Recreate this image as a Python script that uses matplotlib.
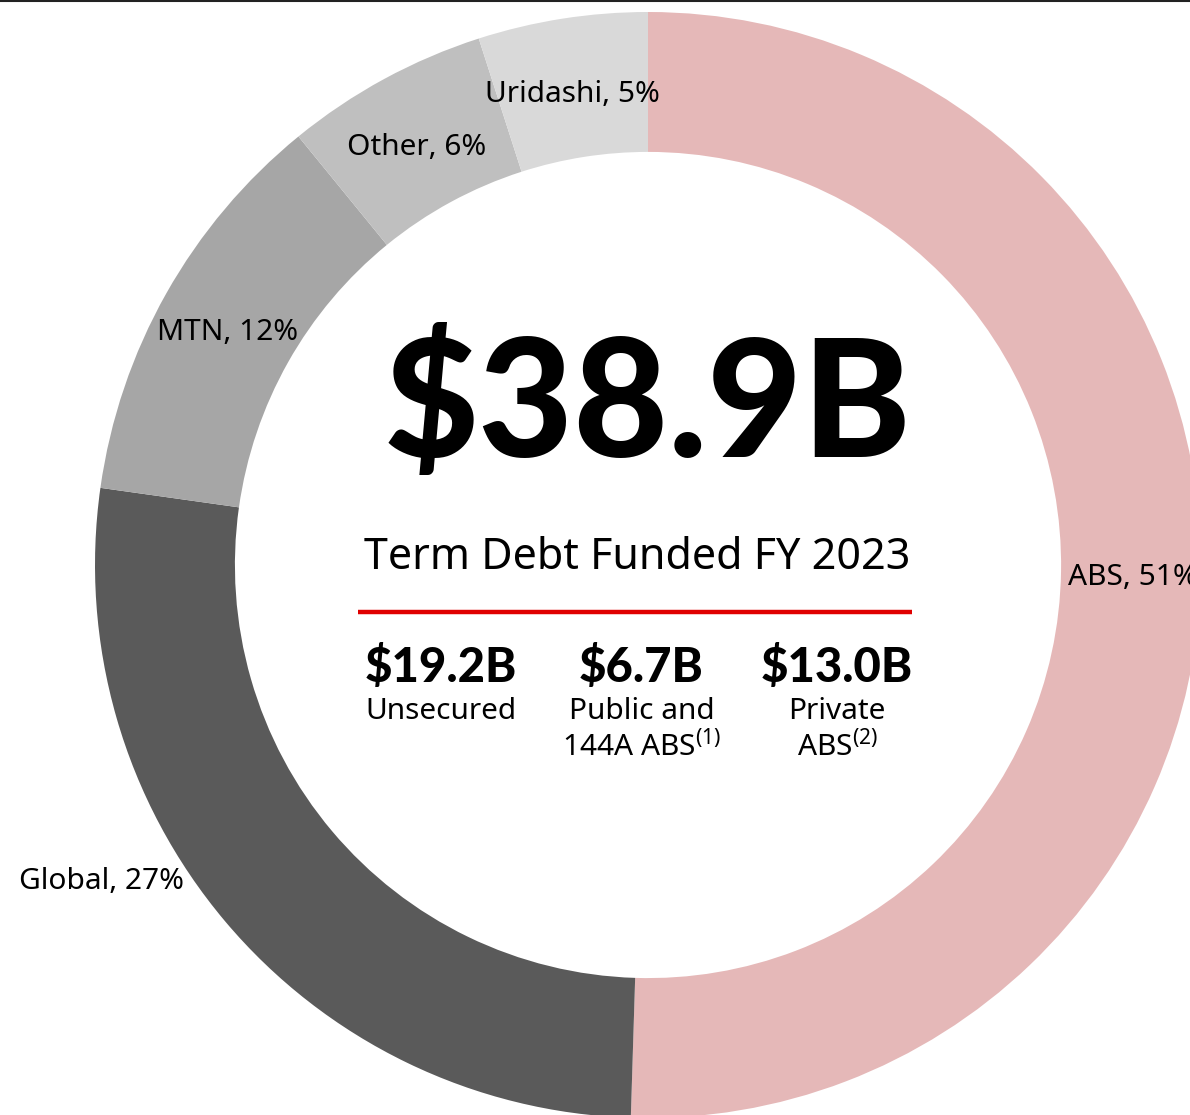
import matplotlib.pyplot as plt
from matplotlib.lines import Line2D

plt.rcParams['font.family'] = ['Noto Sans', 'DejaVu Sans']
plt.rcParams['mathtext.fontset'] = 'custom'
plt.rcParams['mathtext.rm'] = 'Noto Sans'

# Funding mix (share of term debt, %)
segments = ['ABS', 'Global', 'MTN', 'Other', 'Uridashi']
shares = [51, 27, 12, 6, 5]
colors = ['#E5B8B8', '#5A5A5A', '#A6A6A6', '#BFBFBF', '#D9D9D9']

total_label = '$38.9B'
subtitle = 'Term Debt Funded FY 2023'
sub_amounts = ['$19.2B', '$6.7B', '$13.0B']
sub_labels = ['Unsecured', 'Public and\n144A ABS$^{(1)}$', 'Private\nABS$^{(2)}$']

bold_font = ['Lato', 'DejaVu Sans']

fig = plt.figure(figsize=(11.9, 11.15), dpi=100)
ax = fig.add_axes([0, 0, 1, 1])

ax.pie(shares, colors=colors, startangle=90, counterclock=False,
       radius=1.0, wedgeprops=dict(width=0.253, linewidth=0))

ax.set_xlim(-1.1718, 0.9801)
ax.set_ylim(-0.9946, 1.0217)
ax.set_aspect('auto')
ax.axis('off')

# segment labels
label_pos = {
    'ABS': (0.7595, -0.022, 'left'),
    'Global': (-0.989, -0.573, 'center'),
    'MTN': (-0.761, 0.420, 'center'),
    'Other': (-0.418, 0.755, 'center'),
    'Uridashi': (-0.137, 0.851, 'center'),
}
for name, val in zip(segments, shares):
    x, y, ha = label_pos[name]
    ax.text(x, y, f'{name}, {val}%', ha=ha, va='center', fontsize=21.5, color='black')

# centre text
ax.text(0.0, 0.285, total_label, ha='center', va='center', fontsize=118,
        fontweight='black', family=bold_font, color='black')
ax.text(-0.02, 0.012, subtitle, ha='center', va='center', fontsize=31, color='black')
ax.plot([-0.525, 0.478], [-0.085, -0.085], color='#E00000', lw=3.2,
        solid_capstyle='butt')

xs = [-0.374, -0.012, 0.342]
for x, amt, lab in zip(xs, sub_amounts, sub_labels):
    ax.text(x, -0.185, amt, ha='center', va='center', fontsize=34,
            fontweight='black', family=bold_font, color='black')
    ax.text(x, -0.238, lab, ha='center', va='top', fontsize=21.5,
            color='black', linespacing=1.2)

# thin rule along the top edge
fig.add_artist(Line2D([0, 1], [0.9988, 0.9988], transform=fig.transFigure,
                      color='#222222', lw=1.5))

fig.savefig('out.png', dpi=100)
